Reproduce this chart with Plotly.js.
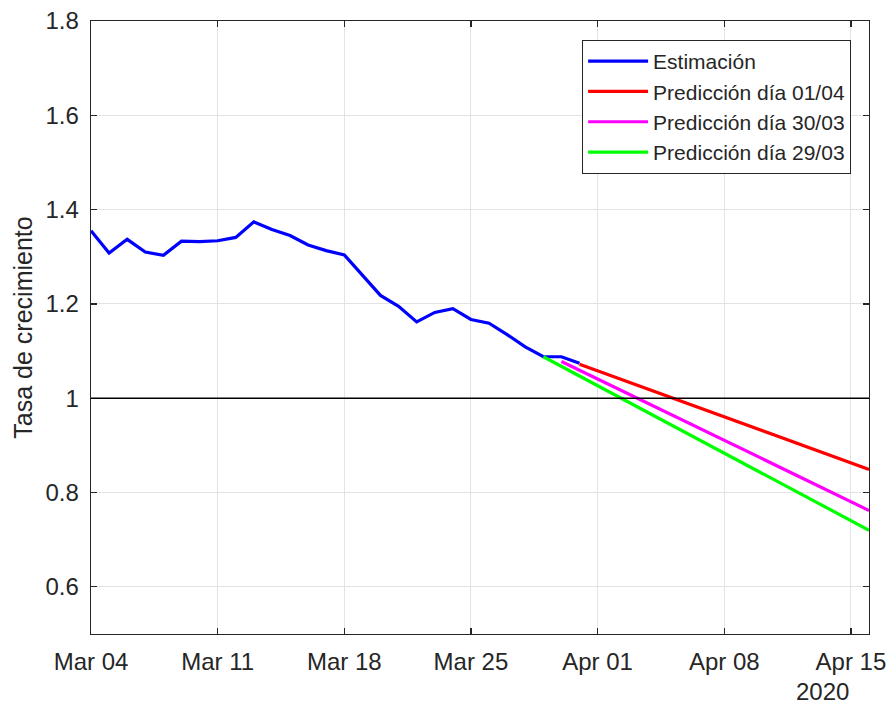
<!DOCTYPE html>
<html>
<head>
<meta charset="utf-8">
<script src="https://cdn.plot.ly/plotly-3.0.1.min.js"></script>
<style>html,body{margin:0;padding:0;background:#fff;}#chart{width:890px;height:704px;}</style>
</head>
<body>
<div id="chart"></div>
<script>
// Estimación (daily, Mar 04 – Mar 31 2020)
const estDates = ["2020-03-04","2020-03-05","2020-03-06","2020-03-07","2020-03-08","2020-03-09","2020-03-10",
  "2020-03-11","2020-03-12","2020-03-13","2020-03-14","2020-03-15","2020-03-16","2020-03-17",
  "2020-03-18","2020-03-19","2020-03-20","2020-03-21","2020-03-22","2020-03-23","2020-03-24",
  "2020-03-25","2020-03-26","2020-03-27","2020-03-28","2020-03-29","2020-03-30","2020-03-31"];
const estValues = [1.355,1.308,1.337,1.310,1.303,1.333,1.332,
  1.334,1.341,1.374,1.358,1.345,1.325,1.313,
  1.304,1.262,1.218,1.195,1.162,1.182,1.190,
  1.167,1.159,1.135,1.109,1.088,1.088,1.074];

// Predictions (straight lines)
const pred0104Dates = ["2020-03-31","2020-04-16"];
const pred0104Values = [1.072,0.849];
const pred3003Dates = ["2020-03-30","2020-04-16"];
const pred3003Values = [1.078,0.762];
const pred2903Dates = ["2020-03-29","2020-04-16"];
const pred2903Values = [1.088,0.720];

const seriesNames = ["Estimación","Predicción día 01/04","Predicción día 30/03","Predicción día 29/03"];
const refLevel = 1;
const xRange = ["2020-03-04","2020-04-16"];
const yRange = [0.5,1.8];
const yearLabel = "2020";
const yTitle = "Tasa de crecimiento";

const FONT = "'Liberation Sans', Arial, Helvetica, sans-serif";
const TXT = "#262626";

const traces = [
  {x: estDates, y: estValues, name: seriesNames[0], mode: "lines", line: {color: "#0000ff", width: 3.2}},
  {x: pred0104Dates, y: pred0104Values, name: seriesNames[1], mode: "lines", line: {color: "#ff0000", width: 3.2}},
  {x: pred3003Dates, y: pred3003Values, name: seriesNames[2], mode: "lines", line: {color: "#ff00ff", width: 3.2}},
  {x: pred2903Dates, y: pred2903Values, name: seriesNames[3], mode: "lines", line: {color: "#00ff00", width: 3.2}}
];

const axisCommon = {
  showline: true, linecolor: TXT, linewidth: 1.3, mirror: "ticks",
  ticks: "inside", ticklen: 6, tickcolor: TXT, tickwidth: 1.3,
  showgrid: true, gridcolor: "#e3e3e3", gridwidth: 1, zeroline: false,
  tickfont: {family: FONT, size: 24, color: TXT}
};

const layout = {
  width: 890, height: 704,
  margin: {l: 91, r: 21, t: 21, b: 70},
  paper_bgcolor: "#fff", plot_bgcolor: "#fff",
  font: {family: FONT, color: TXT},
  showlegend: true,
  legend: {
    x: 0.977, xanchor: "right", y: 0.969, yanchor: "top",
    bgcolor: "#fff", bordercolor: TXT, borderwidth: 1,
    font: {family: FONT, size: 21, color: TXT},
    itemwidth: 60, tracegroupgap: 0
  },
  xaxis: Object.assign({}, axisCommon, {
    type: "date", range: xRange, tick0: "2020-03-04", dtick: 7*24*3600*1000,
    tickformat: "%b %d", ticklabelstandoff: 6
  }),
  yaxis: Object.assign({}, axisCommon, {
    range: yRange, tick0: 0.6, dtick: 0.2, ticklabelstandoff: 6,
    title: {text: yTitle, font: {family: FONT, size: 25, color: TXT}, standoff: 5}
  }),
  shapes: [
    {type: "line", xref: "paper", x0: 0, x1: 1, yref: "y", y0: refLevel, y1: refLevel,
     line: {color: "#000000", width: 1.5}, layer: "above"}
  ],
  annotations: [
    {text: yearLabel, xref: "paper", yref: "paper", x: (851-91)/778, y: -0.093,
     xanchor: "right", yanchor: "middle", showarrow: false,
     font: {family: FONT, size: 24, color: TXT}}
  ]
};

Plotly.newPlot("chart", traces, layout, {displayModeBar: false, staticPlot: true});
</script>
</body>
</html>
